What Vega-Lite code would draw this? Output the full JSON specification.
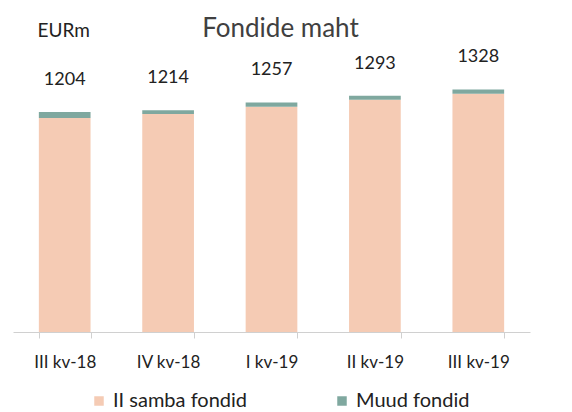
{
  "$schema": "https://vega.github.io/schema/vega-lite/v6.json",
  "width": 517,
  "height": 274,
  "autosize": "none",
  "padding": {"left": 13, "top": 58, "right": 42, "bottom": 80},
  "background": "white",
  "config": {
    "font": "Lato",
    "view": {"stroke": null}
  },
  "title": {
    "text": "Fondide maht",
    "fontSize": 26,
    "fontWeight": "normal",
    "color": "#404040",
    "offset": -21,
    "dx": 9
  },
  "data": {
    "values": [
      {"kv": "III kv-18", "series": "II samba fondid", "value": 1172},
      {"kv": "III kv-18", "series": "Muud fondid", "value": 32},
      {"kv": "IV kv-18", "series": "II samba fondid", "value": 1193},
      {"kv": "IV kv-18", "series": "Muud fondid", "value": 21},
      {"kv": "I kv-19", "series": "II samba fondid", "value": 1233},
      {"kv": "I kv-19", "series": "Muud fondid", "value": 24},
      {"kv": "II kv-19", "series": "II samba fondid", "value": 1271},
      {"kv": "II kv-19", "series": "Muud fondid", "value": 22},
      {"kv": "III kv-19", "series": "II samba fondid", "value": 1304},
      {"kv": "III kv-19", "series": "Muud fondid", "value": 24}
    ]
  },
  "encoding": {
    "x": {
      "field": "kv",
      "type": "nominal",
      "sort": null,
      "scale": {"paddingInner": 0.5, "paddingOuter": 0.25},
      "axis": {
        "title": null,
        "labelAngle": 0,
        "labelFontSize": 17,
        "labelColor": "#222",
        "labelPadding": 16,
        "domainColor": "#d0d0d0",
        "tickColor": "#d0d0d0",
        "tickSize": 6,
        "tickBand": "extent"
      }
    }
  },
  "layer": [
    {
      "mark": {"type": "bar"},
      "encoding": {
        "y": {
          "field": "value",
          "type": "quantitative",
          "aggregate": "sum",
          "stack": "zero",
          "scale": {"domain": [0, 1500], "nice": false},
          "axis": {
            "title": "EURm",
            "titleAngle": 0,
            "titleFontSize": 19,
            "titleFontWeight": "normal",
            "titleColor": "#222",
            "titleAlign": "left",
            "titleBaseline": "middle",
            "titleX": 24,
            "titleY": -28,
            "labels": false,
            "ticks": false,
            "domain": false,
            "grid": false
          }
        },
        "color": {
          "field": "series",
          "type": "nominal",
          "scale": {"domain": ["II samba fondid", "Muud fondid"], "range": ["#f5cbb4", "#7fa89f"]},
          "legend": {
            "title": null,
            "orient": "none",
            "direction": "horizontal",
            "legendX": 76,
            "legendY": 333,
            "symbolType": "square",
            "symbolSize": 90,
            "symbolStrokeWidth": 0,
            "labelOffset": 4,
            "labelFontSize": 20,
            "labelColor": "#222",
            "columnPadding": 84,
            "labelLimit": 300
          }
        },
        "order": {"field": "series", "sort": "ascending"}
      }
    },
    {
      "mark": {"type": "text", "fontSize": 18, "color": "#222", "baseline": "middle", "dy": -32},
      "encoding": {
        "y": {"field": "value", "type": "quantitative", "aggregate": "sum"},
        "text": {"field": "value", "type": "quantitative", "aggregate": "sum"}
      }
    }
  ]
}
